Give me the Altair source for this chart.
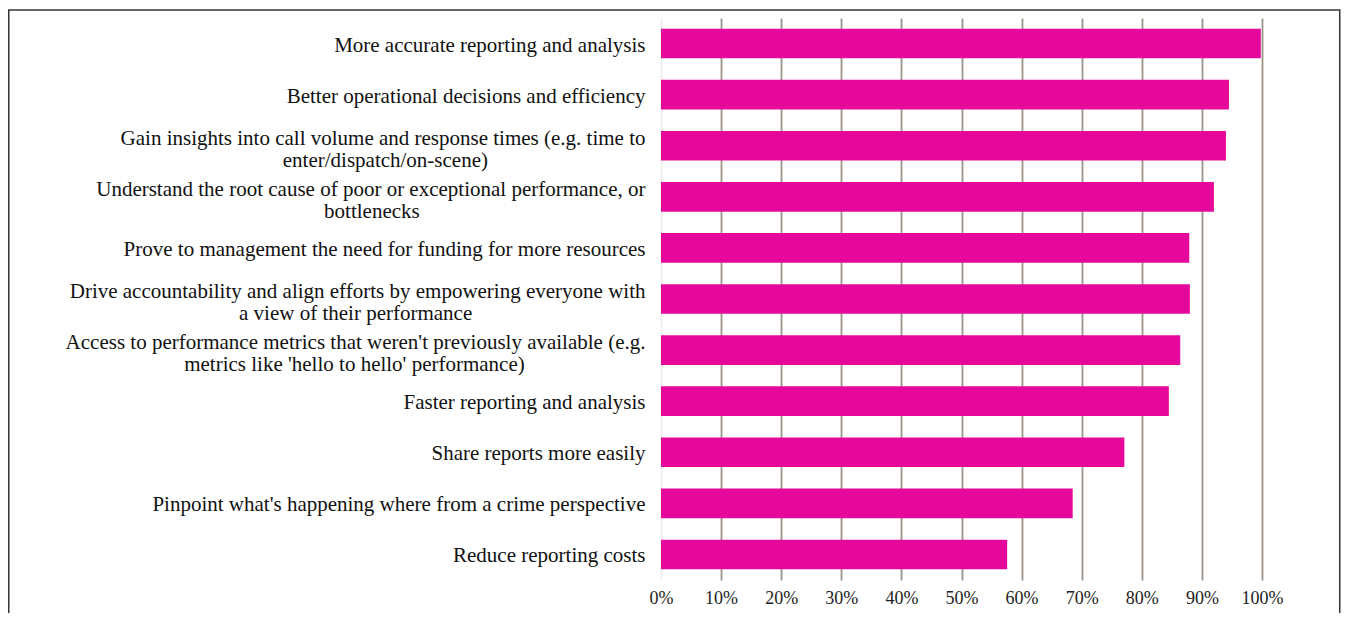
import altair as alt
import pandas as pd

# ---- data ----
categories = [
    "More accurate reporting and analysis",
    "Better operational decisions and efficiency",
    "Gain insights into call volume and response times (e.g. time to|enter/dispatch/on-scene)",
    "Understand the root cause of poor or exceptional performance, or|bottlenecks",
    "Prove to management the need for funding for more resources",
    "Drive accountability and align efforts by empowering everyone with|a view of their performance",
    "Access to performance metrics that weren't previously available (e.g.|metrics like 'hello to hello' performance)",
    "Faster reporting and analysis",
    "Share reports more easily",
    "Pinpoint what's happening where from a crime perspective",
    "Reduce reporting costs",
]
values = [99.8, 94.5, 94.0, 92.0, 87.9, 88.0, 86.4, 84.5, 77.1, 68.5, 57.6]
x_ticks = [0, 10, 20, 30, 40, 50, 60, 70, 80, 90, 100]

# Times / Liberation Serif advance widths (1/1000 em), used to centre the
# shorter line of a two-line label under the longer one.
GLYPH_W = {
    " ": 250, "\u00a0": 250, "'": 180, "(": 333, ")": 333, ",": 250, "-": 333,
    ".": 250, "/": 278, "A": 722, "B": 667, "D": 722, "F": 556, "G": 722,
    "M": 889, "P": 556, "R": 667, "S": 556, "U": 722, "a": 444, "b": 500,
    "c": 444, "d": 500, "e": 444, "f": 333, "g": 500, "h": 500, "i": 278,
    "k": 500, "l": 278, "m": 778, "n": 500, "o": 500, "p": 500, "r": 333,
    "s": 389, "t": 278, "u": 500, "v": 500, "w": 722, "y": 500,
}
NBSP = "\u00a0"
WJ = "\u2060"  # word joiner: keeps the padding from being treated as trailing space


def text_w(s):
    return sum(GLYPH_W.get(c, 500) for c in s)


def centre_lines(label):
    lines = label.split("|")
    m = max(text_w(l) for l in lines)
    out = []
    for l in lines:
        n = round((m - text_w(l)) / 2 / 250)
        out.append(l + (NBSP * n + WJ if n > 0 else ""))
    return "|".join(out)


labels = [centre_lines(c) for c in categories]
df = pd.DataFrame({"label": labels, "value": values})

SERIF = "Liberation Serif, Times New Roman, serif"

bars = alt.Chart(df).mark_bar(color="#e6089b").encode(
    x=alt.X(
        "value:Q",
        scale=alt.Scale(domain=[0, 100], nice=False, zero=True),
        axis=alt.Axis(
            values=x_ticks,
            labelExpr="datum.value + '%'",
            labelFlush=False,
            labelOverlap=False,
            grid=True,
            gridColor={"condition": {"test": "datum.value === 0", "value": "#eeeeee"}, "value": "#9c938a"},
            gridWidth=1.8,
            domain=False,
            ticks=False,
            labelFont=SERIF,
            labelFontSize=18,
            labelColor="#222222",
            labelPadding=9,
            title=None,
        ),
    ),
    y=alt.Y(
        "label:N",
        sort=labels,
        scale=alt.Scale(paddingInner=0.42, paddingOuter=0.21),
        axis=alt.Axis(
            title=None,
            labelExpr="split(datum.label, '|')",
            labelLimit=0,
            labelOverlap=False,
            labelFont=SERIF,
            labelFontSize=21,
            labelLineHeight=22,
            labelColor="#111111",
            labelPadding=16,
            labelOffset={"condition": {"test": "indexof(datum.value, '|') >= 0", "value": -7}, "value": 2},
            domain=False,
            ticks=False,
            grid=False,
        ),
    ),
)

# decorative frame around the whole figure (scan border)
frame = alt.Chart(pd.DataFrame({"k": [0]})).mark_rect(
    filled=False, stroke="#333333", strokeWidth=1.5, clip=False
).encode(
    x=alt.value(-652.25), x2=alt.value(678.75), y=alt.value(-8), y2=alt.value(700)
)

chart = (
    alt.layer(bars, frame)
    .properties(
        width=601,
        height=562,
        padding={"left": 653, "top": 10, "right": 79, "bottom": 33},
        autosize=alt.AutoSizeParams(type="none"),
        background="white",
    )
    .configure_view(stroke=None)
)

chart.save("out.html", embed_options={"renderer": "svg", "actions": False})
